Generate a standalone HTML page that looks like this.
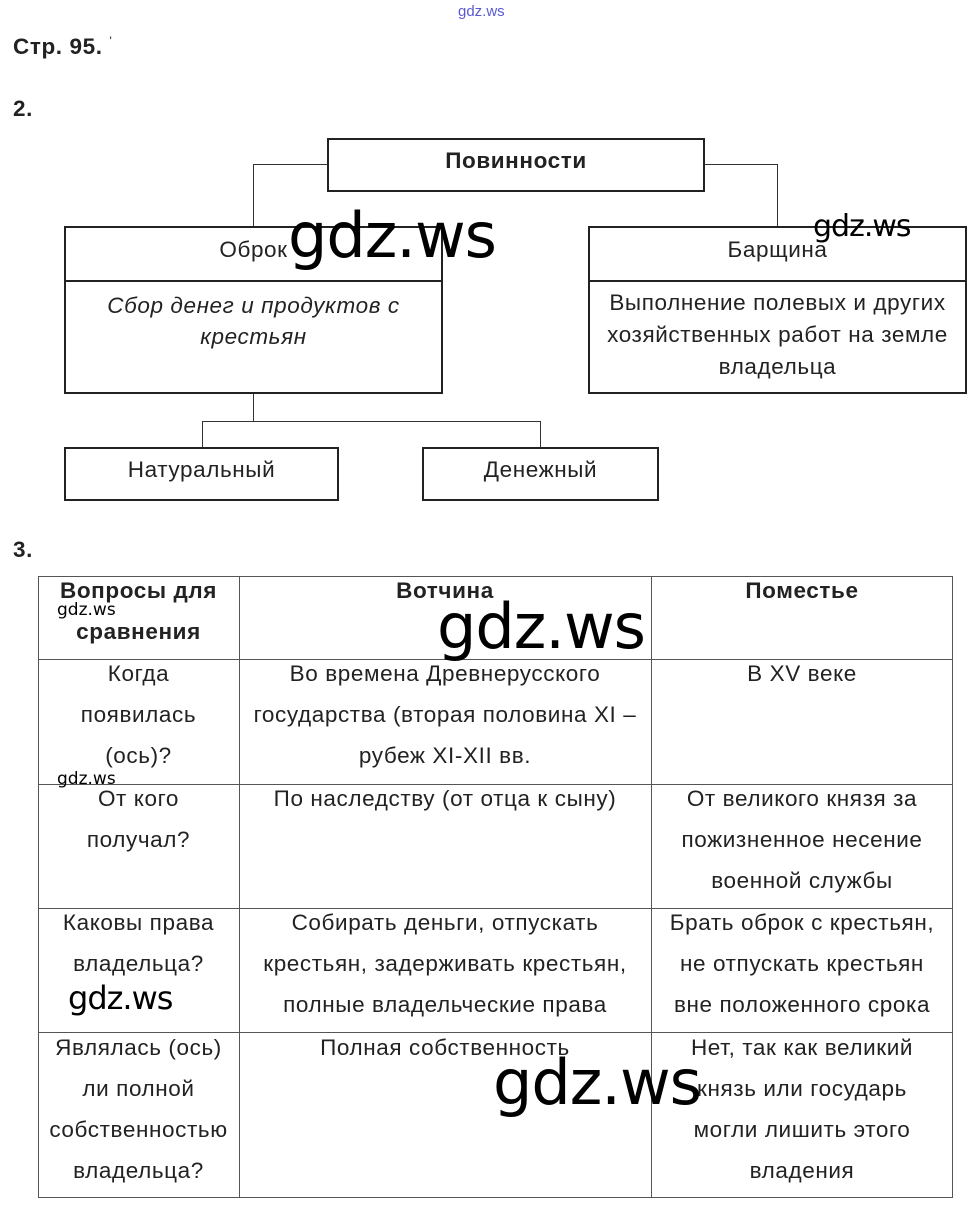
<!DOCTYPE html>
<html><head><meta charset="utf-8"><style>
body{margin:0;width:970px;height:1211px;background:#fff;position:relative;overflow:hidden;font-family:"Liberation Sans",Arial,sans-serif;color:#222}
.a{position:absolute;letter-spacing:0.6px}
.box{position:absolute;border:2px solid #222;box-sizing:border-box;background:#fff}
.ln{position:absolute;background:#333}
.t{position:absolute;text-align:center;font-size:22.5px;line-height:41px;letter-spacing:0.6px}
.wm{position:absolute;font-family:"DejaVu Sans","Liberation Sans",sans-serif;color:#000;line-height:1;letter-spacing:-1px}
</style></head><body>
<div class="a" style="left:458px;top:3px;font-size:15px;color:#5a5ad0;letter-spacing:0">gdz.ws</div>
<div class="a" style="left:13px;top:34px;font-size:22.5px;font-weight:bold">Стр. 95. <span style="font-weight:normal;font-size:12px;vertical-align:top">'</span></div>
<div class="a" style="left:13px;top:96px;font-size:22.5px;font-weight:bold">2.</div>

<div class="ln" style="left:253px;top:164px;width:74px;height:1px"></div>
<div class="ln" style="left:253px;top:164px;width:1px;height:63px"></div>
<div class="ln" style="left:704px;top:164px;width:74px;height:1px"></div>
<div class="ln" style="left:777px;top:164px;width:1px;height:63px"></div>
<div class="ln" style="left:253px;top:393px;width:1px;height:28px"></div>
<div class="ln" style="left:202px;top:421px;width:339px;height:1px"></div>
<div class="ln" style="left:202px;top:421px;width:1px;height:27px"></div>
<div class="ln" style="left:540px;top:421px;width:1px;height:27px"></div>

<div class="box" style="left:327px;top:138px;width:378px;height:54px"></div>
<div class="t" style="left:327px;top:140px;width:378px;font-weight:bold">Повинности</div>

<div class="box" style="left:64px;top:226px;width:379px;height:168px"></div>
<div class="ln" style="left:64px;top:280px;width:379px;height:2px;background:#222"></div>
<div class="t" style="left:64px;top:229px;width:379px">Оброк</div>
<div class="t" style="left:64px;top:290px;width:379px;font-style:italic;line-height:31px">Сбор денег и продуктов с<br>крестьян</div>

<div class="box" style="left:588px;top:226px;width:379px;height:168px"></div>
<div class="ln" style="left:588px;top:280px;width:379px;height:2px;background:#222"></div>
<div class="t" style="left:588px;top:229px;width:379px">Барщина</div>
<div class="t" style="left:588px;top:287px;width:379px;line-height:32px">Выполнение полевых и других<br>хозяйственных работ на земле<br>владельца</div>

<div class="box" style="left:64px;top:447px;width:275px;height:54px"></div>
<div class="t" style="left:64px;top:449px;width:275px">Натуральный</div>
<div class="box" style="left:422px;top:447px;width:237px;height:54px"></div>
<div class="t" style="left:422px;top:449px;width:237px">Денежный</div>

<div class="a" style="left:13px;top:537px;font-size:22.5px;font-weight:bold">3.</div>

<div class="a" style="left:38px;top:576px;width:915px;height:622px;border:1px solid #555;box-sizing:border-box"></div>
<div class="ln" style="left:239px;top:576px;width:1px;height:622px;background:#555"></div>
<div class="ln" style="left:651px;top:576px;width:1px;height:622px;background:#555"></div>
<div class="ln" style="left:38px;top:659px;width:915px;height:1px;background:#555"></div>
<div class="ln" style="left:38px;top:784px;width:915px;height:1px;background:#555"></div>
<div class="ln" style="left:38px;top:908px;width:915px;height:1px;background:#555"></div>
<div class="ln" style="left:38px;top:1032px;width:915px;height:1px;background:#555"></div>

<div class="t" style="left:38px;top:570px;width:201px;font-weight:bold">Вопросы для<br>сравнения</div>
<div class="t" style="left:239px;top:570px;width:412px;font-weight:bold">Вотчина</div>
<div class="t" style="left:651px;top:570px;width:302px;font-weight:bold">Поместье</div>

<div class="t" style="left:38px;top:653px;width:201px">Когда<br>появилась<br>(ось)?</div>
<div class="t" style="left:239px;top:653px;width:412px">Во времена Древнерусского<br>государства (вторая половина XI –<br>рубеж XI-XII вв.</div>
<div class="t" style="left:651px;top:653px;width:302px">В XV веке</div>

<div class="t" style="left:38px;top:778px;width:201px">От кого<br>получал?</div>
<div class="t" style="left:239px;top:778px;width:412px">По наследству (от отца к сыну)</div>
<div class="t" style="left:651px;top:778px;width:302px">От великого князя за<br>пожизненное несение<br>военной службы</div>

<div class="t" style="left:38px;top:902px;width:201px">Каковы права<br>владельца?</div>
<div class="t" style="left:239px;top:902px;width:412px">Собирать деньги, отпускать<br>крестьян, задерживать крестьян,<br>полные владельческие права</div>
<div class="t" style="left:651px;top:902px;width:302px">Брать оброк с крестьян,<br>не отпускать крестьян<br>вне положенного срока</div>

<div class="t" style="left:38px;top:1027px;width:201px">Являлась (ось)<br>ли полной<br>собственностью<br>владельца?</div>
<div class="t" style="left:239px;top:1027px;width:412px">Полная собственность</div>
<div class="t" style="left:651px;top:1027px;width:302px">Нет, так как великий<br>князь или государь<br>могли лишить этого<br>владения</div>

<div class="wm" style="left:288px;top:205px;font-size:62px">gdz.ws</div>
<div class="wm" style="left:813px;top:212px;font-size:30px">gdz.ws</div>
<div class="wm" style="left:437px;top:596px;font-size:62px">gdz.ws</div>
<div class="wm" style="left:57px;top:602px;font-size:17px;letter-spacing:0">gdz.ws</div>
<div class="wm" style="left:57px;top:771px;font-size:17px;letter-spacing:0">gdz.ws</div>
<div class="wm" style="left:68px;top:982px;font-size:32px">gdz.ws</div>
<div class="wm" style="left:493px;top:1052px;font-size:62px">gdz.ws</div>
</body></html>
